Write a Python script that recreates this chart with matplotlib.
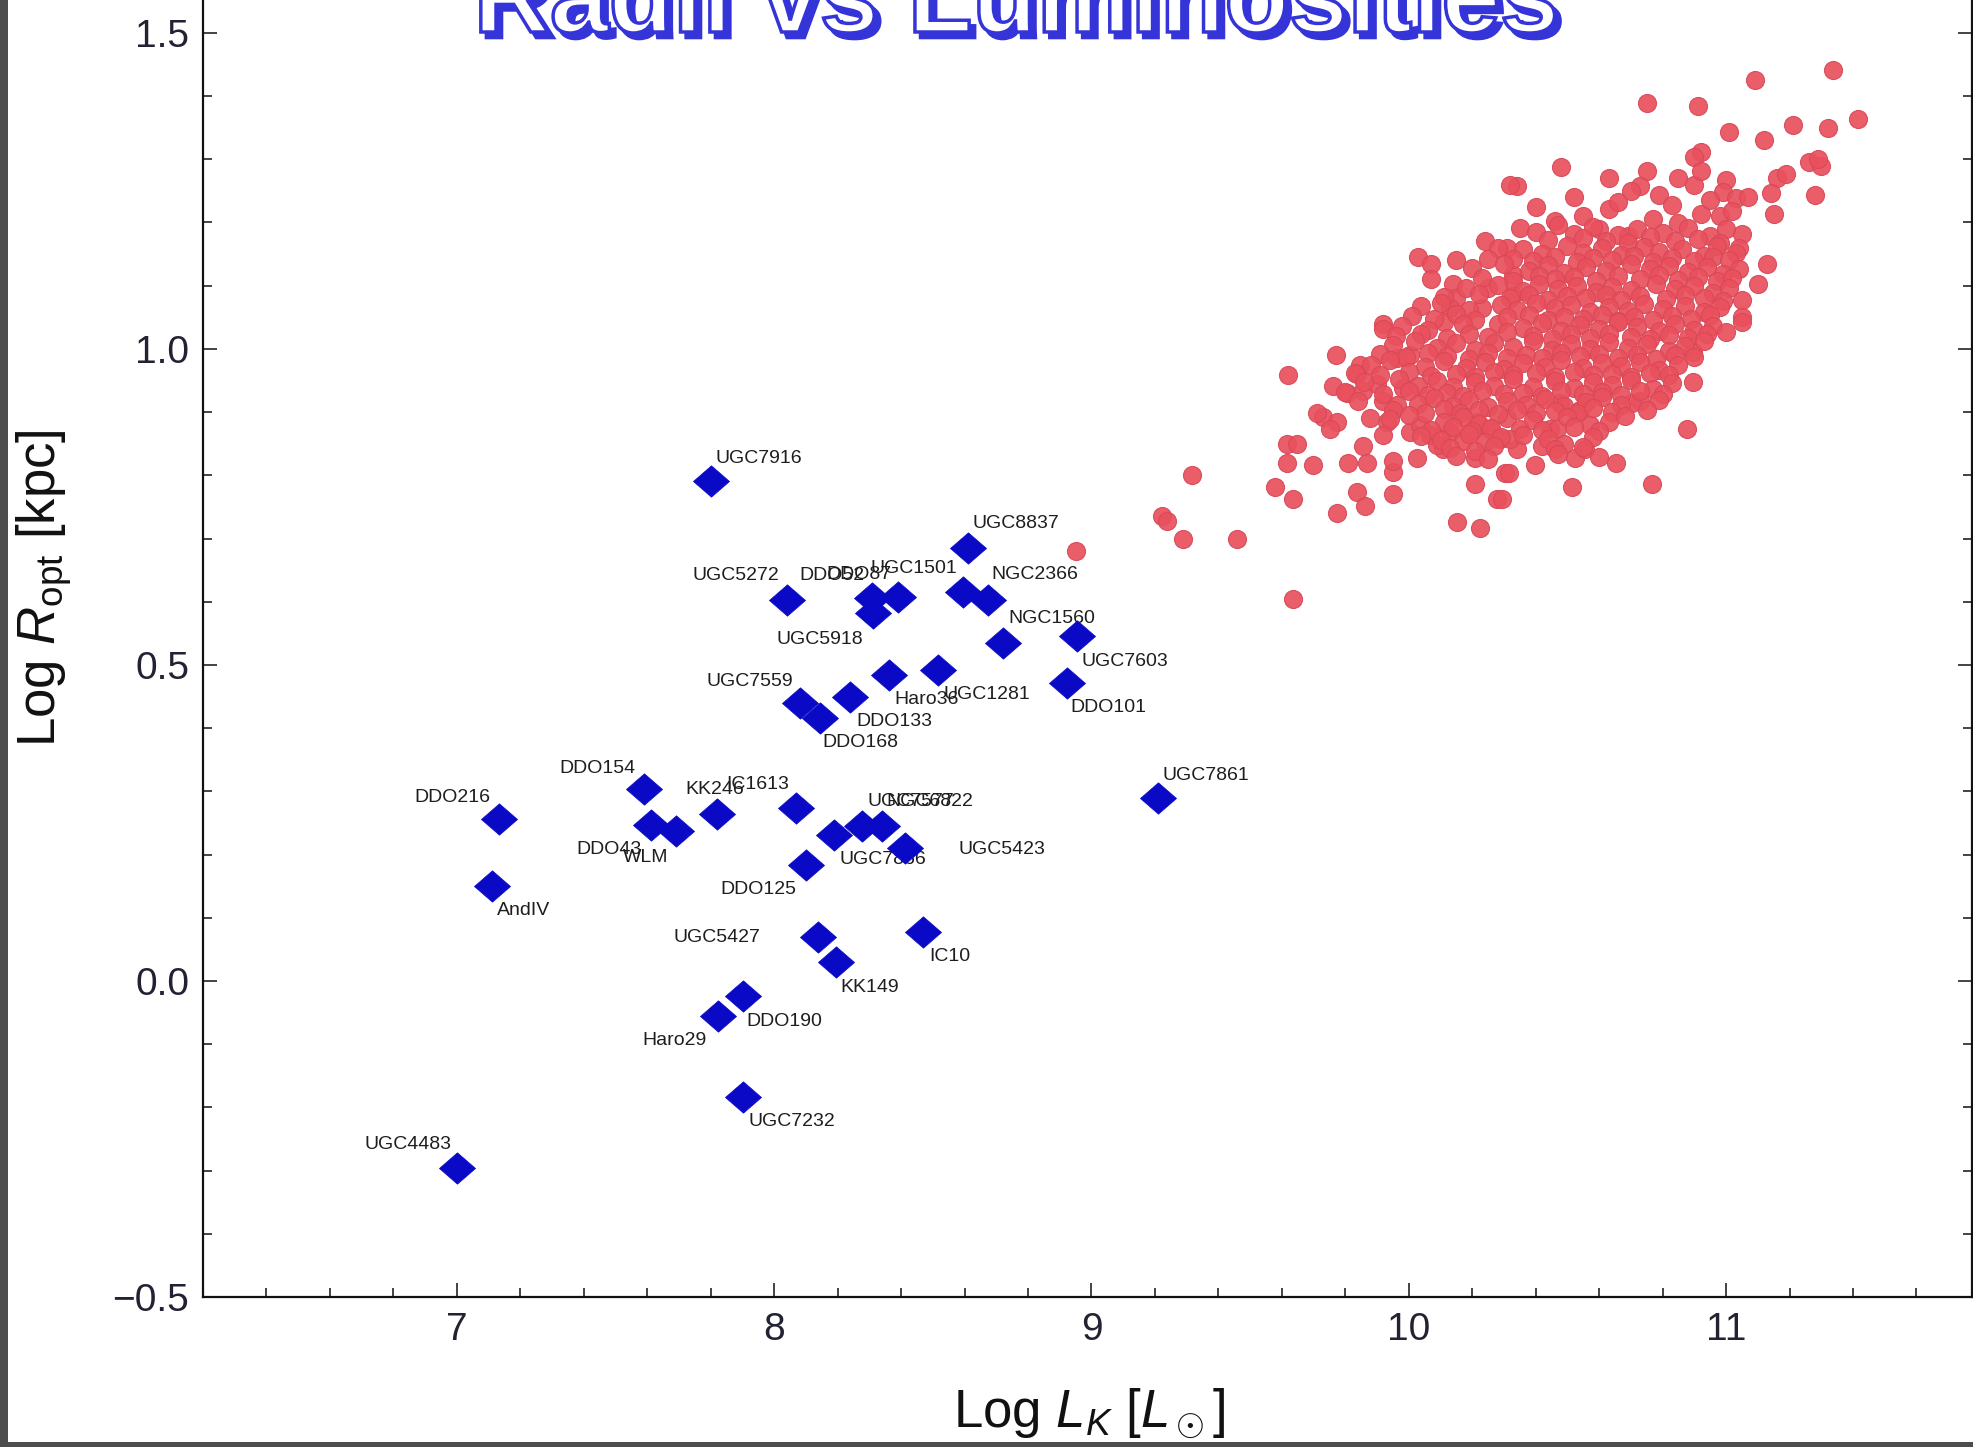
import matplotlib
matplotlib.use("Agg")
import matplotlib.pyplot as plt
import matplotlib.patheffects as pe
from matplotlib.path import Path
from matplotlib.patches import Rectangle
from matplotlib.ticker import MultipleLocator, FuncFormatter

plt.rcParams['font.family'] = ['Liberation Sans', 'DejaVu Sans']
plt.rcParams['mathtext.fontset'] = 'custom'
plt.rcParams['mathtext.rm'] = 'Liberation Sans'
plt.rcParams['mathtext.it'] = 'Liberation Sans:italic'
plt.rcParams['mathtext.bf'] = 'Liberation Sans:bold'

# ---------------------------------------------------------------- data
# dwarf galaxies (blue diamonds): log L_K [L_sun], log R_opt [kpc]
dwarf_names = ["UGC7916", "UGC5272", "DDO52", "DDO87", "UGC5918", "UGC1501",
               "NGC2366", "UGC8837", "NGC1560", "UGC7603", "DDO101", "UGC1281",
               "Haro36", "DDO133", "DDO168", "UGC7559", "UGC7861", "DDO216",
               "AndIV", "DDO154", "DDO43", "WLM", "KK246", "IC1613",
               "UGC7577", "NGC6822", "UGC7866", "UGC5423", "DDO125", "UGC5427",
               "KK149", "IC10", "DDO190", "Haro29", "UGC7232", "UGC4483"]
dwarf_logL = [7.80, 8.039, 8.307, 8.391, 8.312, 8.596,
              8.674, 8.611, 8.722, 8.953, 8.922, 8.517,
              8.362, 8.239, 8.144, 8.081, 9.209, 7.134,
              7.110, 7.591, 7.612, 7.690, 7.821, 8.070,
              8.278, 8.339, 8.189, 8.412, 8.101, 8.137,
              8.194, 8.468, 7.901, 7.823, 7.902, 7.002]
dwarf_logR = [0.791, 0.603, 0.606, 0.608, 0.582, 0.616,
              0.603, 0.685, 0.5345, 0.545, 0.471, 0.492,
              0.4845, 0.450, 0.416, 0.4396, 0.289, 0.2566,
              0.1495, 0.304, 0.247, 0.2365, 0.2634, 0.2734,
              0.2445, 0.2445, 0.2313, 0.210, 0.184, 0.0688,
              0.0297, 0.0772, -0.0245, -0.0562, -0.1843, -0.296]

# spiral galaxies (red circles): (log L_K, log R_opt)
spiral_pts = [
    # upper envelope
    (11.337, 1.442), (11.09, 1.425), (10.75, 1.389), (10.91, 1.385), (11.415, 1.363),
    (11.32, 1.350), (11.21, 1.355), (11.01, 1.343), (11.12, 1.330), (10.48, 1.287),
    (10.63, 1.270), (10.34, 1.257), (10.92, 1.312), (10.90, 1.304), (10.75, 1.281),
    (10.73, 1.257), (10.85, 1.270), (10.90, 1.260), (10.79, 1.244), (10.92, 1.281),
    (11.00, 1.268), (10.99, 1.249), (11.03, 1.238), (11.07, 1.241), (11.16, 1.270),
    (11.19, 1.277), (11.14, 1.246), (11.26, 1.295), (11.30, 1.290), (11.29, 1.300),
    (11.28, 1.243), (11.15, 1.213), (11.05, 1.181), (11.04, 1.159), (11.13, 1.135),
    (11.10, 1.102), (11.05, 1.078), (11.05, 1.051), (10.77, 1.206), (10.85, 1.199),
    (10.92, 1.214), (10.98, 1.210), (11.02, 1.218), (10.63, 1.221), (10.55, 1.210),
    (10.46, 1.202), (10.60, 1.189), (10.69, 1.178), (10.35, 1.191), (10.31, 1.159),
    (10.33, 1.117), (10.33, 1.085), (10.32, 1.260),
    (10.40, 1.225), (10.52, 1.240), (10.66, 1.232), (10.83, 1.228), (10.95, 1.236),
    (10.70, 1.250),
    # upper-left flank
    (10.03, 1.146), (10.07, 1.135), (10.15, 1.141), (10.24, 1.170), (10.28, 1.159),
    (10.25, 1.143), (10.07, 1.111), (10.14, 1.102), (10.15, 1.080), (10.13, 1.064),
    (10.25, 1.097), (10.23, 1.064), (9.92, 1.039), (10.11, 1.043), (10.28, 1.039),
    # lower-left tail
    (9.316, 0.801), (9.222, 0.735), (9.238, 0.727), (9.29, 0.699), (9.46, 0.700),
    (9.635, 0.605), (9.62, 0.958), (9.77, 0.991), (9.92, 1.031), (9.616, 0.850),
    (9.647, 0.849), (9.616, 0.819), (9.698, 0.816), (9.578, 0.781), (9.635, 0.763),
    (9.773, 0.741), (9.836, 0.773), (9.862, 0.751), (9.808, 0.819), (9.868, 0.819),
    (9.855, 0.846), (9.950, 0.771), (9.950, 0.806), (9.950, 0.822), (10.026, 0.828),
    (10.152, 0.726), (10.224, 0.716), (10.208, 0.786), (10.278, 0.763), (10.208, 0.828),
    (10.303, 0.803), (10.287, 0.858), (10.107, 0.842), (9.729, 0.893), (9.773, 0.885),
    (9.751, 0.874), (9.71, 0.898), (9.761, 0.941), (9.805, 0.930), (9.846, 0.975),
    (9.836, 0.960), (9.855, 0.933), (9.90, 0.944), (9.918, 0.917), (9.962, 0.912),
    (9.981, 0.938), (10.003, 0.991), (9.962, 0.985), (9.931, 0.885), (9.877, 0.890),
    (9.918, 0.864), (10.003, 0.869), (10.035, 0.880), (10.066, 0.864), (10.088, 0.848),
    (10.13, 0.869), (10.17, 0.854), (10.215, 0.885), (10.256, 0.874), (8.95, 0.680),
    # lower-right flank
    (11.05, 1.043), (10.895, 0.995), (10.895, 0.947), (10.876, 0.874), (10.766, 0.786),
    (10.653, 0.819), (10.514, 0.781), (10.523, 0.827), (10.555, 0.841), (10.397, 0.816),
    (10.315, 0.803), (10.293, 0.763), (10.42, 0.846), (10.34, 0.841), (10.445, 0.874),
    (10.467, 0.874), (10.571, 0.879), (10.476, 0.914), (10.54, 0.904), (10.728, 0.917),
    (10.703, 0.914), (10.31, 0.890), (10.35, 0.874), (10.32, 0.858), (10.36, 0.864),
    # dense core
    (10.40, 1.185), (10.47, 1.196), (10.52, 1.182), (10.58, 1.193), (10.66, 1.180),
    (10.72, 1.190), (10.80, 1.184), (10.88, 1.192), (10.95, 1.178), (11.00, 1.189),
    (10.44, 1.172), (10.55, 1.176), (10.62, 1.170), (10.69, 1.168), (10.76, 1.177),
    (10.84, 1.171), (10.91, 1.174), (10.98, 1.168),
    (10.36, 1.158), (10.42, 1.150), (10.50, 1.163), (10.55, 1.152), (10.61, 1.160),
    (10.67, 1.148), (10.74, 1.162), (10.79, 1.153), (10.86, 1.158), (10.93, 1.147),
    (10.97, 1.163), (11.03, 1.152),
    (10.33, 1.142), (10.39, 1.139), (10.46, 1.146), (10.53, 1.137), (10.58, 1.144),
    (10.64, 1.140), (10.71, 1.147), (10.77, 1.138), (10.83, 1.144), (10.90, 1.139),
    (10.96, 1.146), (11.01, 1.140),
    (10.20, 1.128), (10.30, 1.135), (10.38, 1.124), (10.44, 1.133), (10.49, 1.120),
    (10.56, 1.130), (10.62, 1.123), (10.70, 1.134), (10.76, 1.126), (10.82, 1.131),
    (10.88, 1.121), (10.94, 1.129), (10.99, 1.118), (11.04, 1.126),
    (10.23, 1.112), (10.33, 1.108), (10.41, 1.116), (10.46, 1.110), (10.52, 1.114),
    (10.59, 1.108), (10.66, 1.116), (10.73, 1.111), (10.79, 1.117), (10.85, 1.109),
    (10.91, 1.113), (10.97, 1.107), (11.02, 1.112),
    (10.18, 1.096), (10.28, 1.101), (10.36, 1.092), (10.41, 1.103), (10.47, 1.095),
    (10.53, 1.100), (10.59, 1.090), (10.64, 1.098), (10.70, 1.093), (10.78, 1.102),
    (10.84, 1.094), (10.90, 1.099), (10.96, 1.089), (11.01, 1.097),
    (10.11, 1.082), (10.22, 1.087), (10.32, 1.080), (10.38, 1.085), (10.44, 1.078),
    (10.50, 1.084), (10.56, 1.080), (10.62, 1.086), (10.67, 1.077), (10.73, 1.083),
    (10.81, 1.079), (10.87, 1.085), (10.93, 1.081), (10.99, 1.076),
    (10.04, 1.068), (10.10, 1.073), (10.19, 1.062), (10.29, 1.070), (10.34, 1.061),
    (10.40, 1.072), (10.46, 1.064), (10.51, 1.069), (10.57, 1.058), (10.63, 1.067),
    (10.69, 1.060), (10.74, 1.071), (10.80, 1.063), (10.87, 1.068), (10.93, 1.059),
    (10.98, 1.066),
    (10.01, 1.052), (10.08, 1.048), (10.15, 1.055), (10.21, 1.046), (10.31, 1.050),
    (10.38, 1.054), (10.44, 1.045), (10.49, 1.051), (10.55, 1.047), (10.61, 1.053),
    (10.66, 1.044), (10.71, 1.050), (10.77, 1.046), (10.83, 1.052), (10.89, 1.048),
    (10.95, 1.054),
    (9.98, 1.036), (10.06, 1.030), (10.17, 1.040), (10.36, 1.033), (10.42, 1.041),
    (10.48, 1.029), (10.54, 1.038), (10.60, 1.031), (10.66, 1.042), (10.72, 1.034),
    (10.79, 1.028), (10.84, 1.039), (10.90, 1.030), (10.96, 1.036), (11.00, 1.026),
    (9.96, 1.020), (10.04, 1.024), (10.12, 1.018), (10.19, 1.023), (10.25, 1.019),
    (10.31, 1.026), (10.39, 1.021), (10.45, 1.016), (10.51, 1.023), (10.57, 1.017),
    (10.63, 1.024), (10.70, 1.019), (10.76, 1.015), (10.82, 1.022), (10.88, 1.018),
    (10.94, 1.023),
    (9.95, 1.006), (10.02, 1.012), (10.09, 1.001), (10.15, 1.009), (10.21, 0.998),
    (10.27, 1.010), (10.33, 1.003), (10.39, 1.013), (10.45, 0.999), (10.51, 1.007),
    (10.57, 1.000), (10.63, 1.011), (10.69, 1.002), (10.75, 1.008), (10.82, 0.997),
    (10.87, 1.005), (10.93, 1.012),
    (9.91, 0.992), (9.99, 0.987), (10.06, 0.994), (10.12, 0.989), (10.19, 0.984),
    (10.25, 0.993), (10.31, 0.986), (10.37, 0.991), (10.42, 0.985), (10.48, 0.994),
    (10.54, 0.988), (10.60, 0.992), (10.66, 0.985), (10.72, 0.990), (10.78, 0.984),
    (10.84, 0.991), (10.90, 0.987),
    (9.88, 0.975), (9.94, 0.983), (10.05, 0.972), (10.11, 0.981), (10.18, 0.970),
    (10.24, 0.979), (10.30, 0.968), (10.36, 0.977), (10.43, 0.971), (10.48, 0.982),
    (10.55, 0.969), (10.61, 0.978), (10.67, 0.973), (10.73, 0.980), (10.79, 0.966),
    (10.85, 0.975),
    (9.83, 0.962), (9.91, 0.958), (10.00, 0.964), (10.07, 0.957), (10.15, 0.961),
    (10.21, 0.955), (10.27, 0.963), (10.33, 0.958), (10.40, 0.962), (10.46, 0.956),
    (10.52, 0.963), (10.58, 0.958), (10.64, 0.961), (10.70, 0.956), (10.76, 0.962),
    (10.82, 0.958),
    (9.86, 0.947), (9.97, 0.952), (10.03, 0.941), (10.09, 0.950), (10.14, 0.939),
    (10.21, 0.948), (10.27, 0.942), (10.33, 0.953), (10.39, 0.940), (10.46, 0.949),
    (10.52, 0.938), (10.58, 0.947), (10.64, 0.943), (10.70, 0.951), (10.77, 0.937),
    (10.83, 0.946),
    (9.80, 0.932), (9.92, 0.928), (10.00, 0.934), (10.06, 0.927), (10.12, 0.931),
    (10.17, 0.925), (10.23, 0.933), (10.30, 0.928), (10.36, 0.931), (10.42, 0.926),
    (10.48, 0.934), (10.55, 0.929), (10.61, 0.932), (10.67, 0.927), (10.73, 0.933),
    (10.80, 0.928),
    (9.84, 0.918), (10.03, 0.913), (10.08, 0.922), (10.14, 0.910), (10.19, 0.919),
    (10.25, 0.908), (10.31, 0.917), (10.37, 0.911), (10.43, 0.921), (10.49, 0.909),
    (10.56, 0.916), (10.61, 0.924), (10.67, 0.912), (10.79, 0.919),
    (9.95, 0.903), (10.05, 0.898), (10.11, 0.905), (10.16, 0.899), (10.22, 0.903),
    (10.28, 0.897), (10.34, 0.904), (10.40, 0.899), (10.46, 0.902), (10.53, 0.898),
    (10.58, 0.906), (10.64, 0.900), (10.75, 0.903),
    (9.94, 0.889), (10.00, 0.896), (10.11, 0.884), (10.17, 0.893), (10.22, 0.881),
    (10.39, 0.887), (10.50, 0.892), (10.63, 0.885), (10.68, 0.894),
    (10.07, 0.872), (10.14, 0.877), (10.20, 0.870), (10.26, 0.875), (10.42, 0.871),
    (10.52, 0.876), (10.60, 0.870),
    (10.04, 0.862), (10.10, 0.856), (10.19, 0.865), (10.24, 0.853), (10.29, 0.860),
    (10.44, 0.857), (10.49, 0.849), (10.58, 0.861),
    (10.13, 0.843), (10.21, 0.839), (10.27, 0.846), (10.46, 0.842), (10.55, 0.845),
    (10.15, 0.831), (10.25, 0.826), (10.47, 0.834), (10.60, 0.829),
]
spiral_logL = [p[0] for p in spiral_pts]
spiral_logR = [p[1] for p in spiral_pts]

# label placement for each dwarf: (dx px, dy px below the point, anchored side)
label_place = [(5, -24, "left"), (-7, -26, "right"), (-7, -24, "right"), (-7, -24, "right"),
               (-10, 25, "right"), (-6, -25, "right"), (3, -27, "left"), (4, -26, "left"),
               (5, -26, "left"), (5, 24, "left"), (4, 23, "left"), (5, 23, "left"),
               (5, 23, "left"), (6, 23, "left"), (3, 23, "left"), (-7, -23, "right"),
               (5, -24, "left"), (-9, -23, "right"), (5, 23, "left"), (-9, -22, "right"),
               (-9, 23, "right"), (-7, 25, "right"), (27, -26, "right"), (-7, -25, "right"),
               (5, -26, "left"), (5, -26, "left"), (5, 23, "left"), (54, 0, "left"),
               (-10, 23, "right"), (-57, -1, "right"), (5, 24, "left"), (7, 23, "left"),
               (4, 24, "left"), (-11, 23, "right"), (5, 23, "left"), (-6, -25, "right")]

x_ticks = [7, 8, 9, 10, 11]
y_ticks = [-0.5, 0.0, 0.5, 1.0, 1.5]

# ---------------------------------------------------------------- figure
W, H = 1974, 1447
fig = plt.figure(figsize=(W / 100, H / 100), dpi=100)
fig.patch.set_facecolor("white")

ax_left, ax_right, ax_bottom = 203, 1972, 1297
ax = fig.add_axes([ax_left / W, 1 - ax_bottom / H, (ax_right - ax_left) / W, ax_bottom / H])
ax.set_xlim(6.2, 11.775)
ax.set_ylim(-0.5, 1.552)

# spirals
ax.plot(spiral_logL, spiral_logR, linestyle="none", marker="o", markersize=13,
        markerfacecolor="#e8505c", markeredgecolor="#d84858", markeredgewidth=0.8,
        alpha=0.92, zorder=2)

# dwarfs: slightly flattened diamond
diamond = Path([(0, -0.87), (1, 0), (0, 0.87), (-1, 0), (0, -0.87)],
               [Path.MOVETO, Path.LINETO, Path.LINETO, Path.LINETO, Path.CLOSEPOLY])

for name, lx, ly, (dx, dy, side) in zip(dwarf_names, dwarf_logL, dwarf_logR, label_place):
    ax.annotate(name, xy=(lx, ly), xytext=(dx, -(dy + 6)), textcoords="offset pixels",
                ha=side, va="baseline", fontsize=14, color="#1e1e1e", zorder=3)

ax.plot(dwarf_logL, dwarf_logR, linestyle="none", marker=diamond, markersize=26,
        markerfacecolor="#0a0ac6", markeredgecolor="#0a0ac6", markeredgewidth=0.5,
        zorder=4)

# axes styling
ax.spines["top"].set_visible(False)
for s in ("left", "bottom", "right"):
    ax.spines[s].set_linewidth(1.6)
    ax.spines[s].set_color("#111111")
ax.set_xticks(x_ticks)
ax.set_yticks(y_ticks)
ax.xaxis.set_minor_locator(MultipleLocator(0.2))
ax.yaxis.set_minor_locator(MultipleLocator(0.1))
ax.yaxis.set_major_formatter(FuncFormatter(lambda v, _: f"{v:.1f}".replace("-", "\u2212")))
ax.tick_params(which="both", direction="in", top=False, right=True, width=1.1,
               color="#111111", labelcolor="#222233")
ax.tick_params(which="major", length=10, labelsize=28)
ax.tick_params(which="minor", length=6.5)
ax.tick_params(axis="x", which="major", pad=11)
ax.tick_params(axis="y", which="major", pad=10)

# axis titles
fig.text(1089 / W, 1 - 1427 / H, r"Log $L_K$ [$L_\odot$]", ha="center", va="baseline",
         fontsize=38, color="#111111")
fig.text(44 / W, 1 - 588 / H, r"Log $R_{\rm opt}$ [kpc]", ha="center", va="center",
         rotation=90, fontsize=38, color="#111111")

# title: white lettering with blue outline and drop shadow
title = fig.text(1016 / W, 1 - 32 / H, "Radii vs Luminosities", ha="center", va="baseline",
                 fontsize=76, fontweight="bold", color="white", zorder=20)
title.set_path_effects([
    pe.PathPatchEffect(offset=(4, -4), facecolor="#3434d8", edgecolor="#3434d8", linewidth=2.5),
    pe.PathPatchEffect(facecolor="white", edgecolor="#3434d8", linewidth=2.5),
])

# window border
fig.patches.append(Rectangle((0, 0), 8 / W, 1, transform=fig.transFigure,
                             facecolor="#4d4d4d", edgecolor="none", zorder=30))
fig.patches.append(Rectangle((0, 0), 1, 5 / H, transform=fig.transFigure,
                             facecolor="#4d4d4d", edgecolor="none", zorder=30))

fig.savefig("out.png", dpi=100)
